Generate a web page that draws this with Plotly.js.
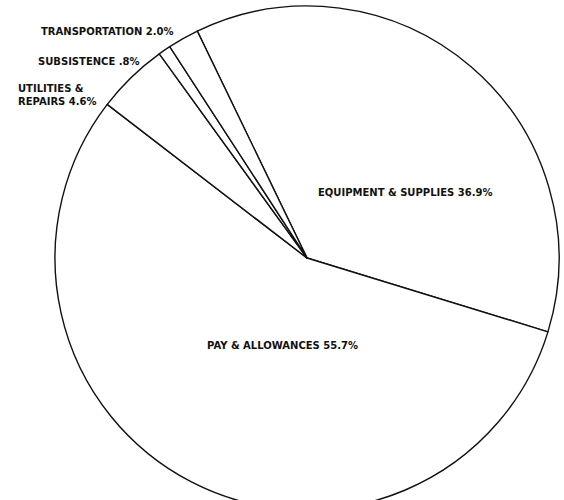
<!DOCTYPE html>
<html>
<head>
<meta charset="utf-8">
<script src="https://cdn.plot.ly/plotly-3.0.1.min.js"></script>
<style>
html, body { margin:0; padding:0; background:#fff; width:564px; height:500px; overflow:hidden; }
#wrap { width:564px; height:500px; overflow:hidden; }
</style>
</head>
<body>
<div id="wrap"><div id="chart"></div></div>
<script>
// Data (clockwise order starting at the top-left boundary)
const categories = ["EQUIPMENT & SUPPLIES", "PAY & ALLOWANCES", "UTILITIES &<br>REPAIRS", "SUBSISTENCE", "TRANSPORTATION"];
const percents = [36.9, 55.7, 4.6, 0.8, 2.0];
const percentLabels = ["36.9%", "55.7%", "4.6%", ".8%", "2.0%"];

const W = 564, H = 520;
const px = x => x / W;
const py = y => 1 - y / H;

const labelPos = [
  {x: 405, y: 192, xanchor: "center"},
  {x: 282, y: 345, xanchor: "center"},
  {x: 16,  y: 95,  xanchor: "left"},
  {x: 36,  y: 61,  xanchor: "left"},
  {x: 39,  y: 31,  xanchor: "left"}
];

const annotations = categories.map((c, i) => ({
  text: c + " " + percentLabels[i],
  x: px(labelPos[i].x), y: py(labelPos[i].y),
  xref: "paper", yref: "paper",
  xanchor: labelPos[i].xanchor, yanchor: "middle",
  align: "left",
  showarrow: false,
  font: {family: "DejaVu Sans", size: 10, color: "#111", weight: "bold"}
}));

const trace = {
  type: "pie",
  labels: categories,
  values: percents,
  sort: false,
  direction: "clockwise",
  rotation: -25.8,
  textinfo: "none",
  hoverinfo: "label+percent",
  marker: {colors: categories.map(() => "#ffffff"), line: {color: "#111", width: 1.4}},
  domain: {x: [px(55), px(559)], y: [py(510), py(6)]},
  showlegend: false
};

Plotly.newPlot("chart", [trace], {
  width: W, height: H,
  margin: {l: 0, r: 0, t: 0, b: 0},
  paper_bgcolor: "#fff",
  plot_bgcolor: "#fff",
  showlegend: false,
  annotations: annotations
}, {staticPlot: true});
</script>
</body>
</html>
